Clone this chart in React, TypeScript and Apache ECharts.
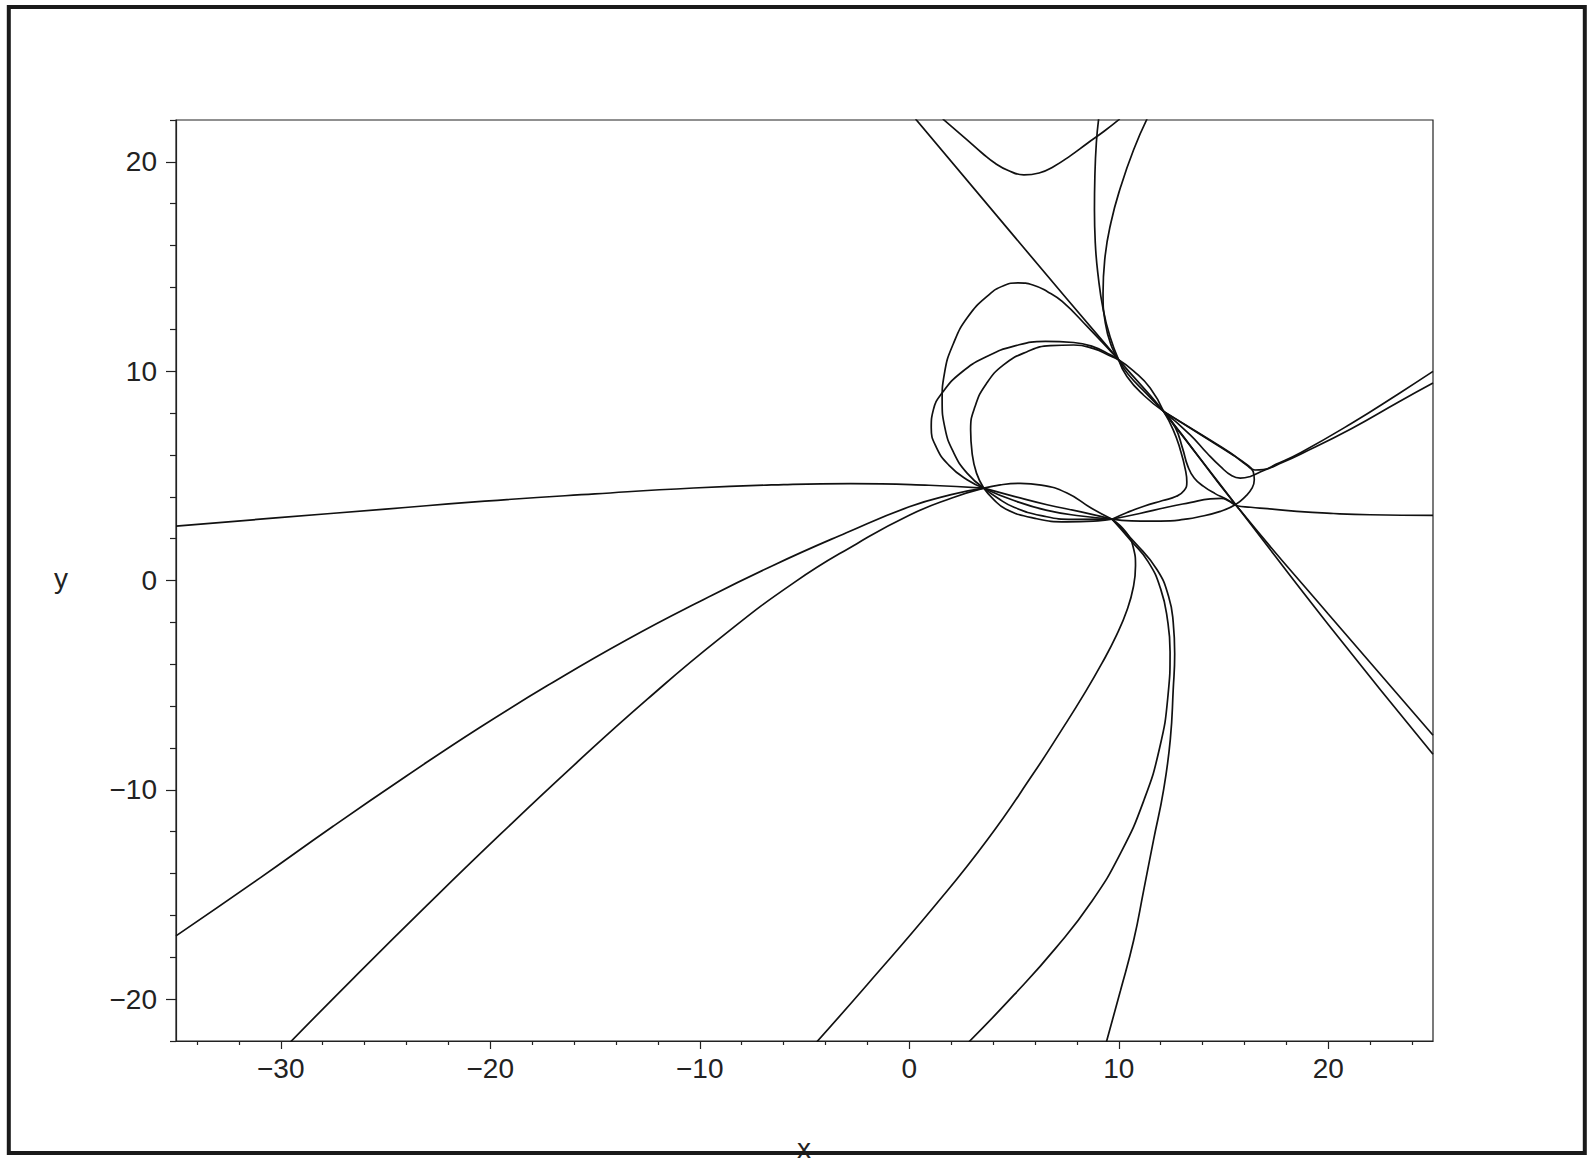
import React, { useEffect, useRef } from "react";
import * as echarts from "echarts";

// ---- axis ticks ----
const X_MAJOR = [-30, -20, -10, 0, 10, 20];
const X_MINOR = [-34, -32, -28, -26, -24, -22, -18, -16, -14, -12, -8, -6, -4, -2, 2, 4, 6, 8, 12, 14, 16, 18, 22, 24];
const Y_MAJOR = [-20, -10, 0, 10, 20];
const Y_MINOR = [-22, -18, -16, -14, -12, -8, -6, -4, -2, 2, 4, 6, 8, 12, 14, 16, 18, 22];

// ---- curve strands, [x, y] ----
const leftFlat = [[-35, 2.6], [-30.24, 2.99], [-25, 3.41], [-20.26, 3.79], [-15, 4.14], [-10.29, 4.42], [-6, 4.58], [-2.8, 4.63], [0.94, 4.55], [3.56, 4.41]];
const lowerLeftUpper = [[-35, -16.98], [-31, -14.22], [-27.5, -11.74], [-24, -9.34], [-20.5, -7.02], [-17, -4.86], [-13.5, -2.84], [-10, -1.0], [-6.5, 0.72], [-3, 2.28], [0, 3.52], [2, 4.1], [3.56, 4.41]];
const lowerLeftLower = [[-29.54, -22.05], [-26.5, -18.97], [-23, -15.5], [-19.5, -12.11], [-16, -8.82], [-12.5, -5.67], [-9, -2.73], [-5.5, -0.1], [-2.5, 1.76], [0, 3.12], [2, 3.93], [3.56, 4.41]];

const topU = [[1.6, 22.05], [2.76, 21.05], [3.5, 20.4], [4.1, 19.93], [4.7, 19.6], [5.47, 19.38], [6.2, 19.47], [6.9, 19.78], [7.7, 20.3], [8.49, 20.88], [9.3, 21.46], [10.05, 22.05]];
const diagLine = [[0.3, 22.05], [5, 16.45], [9.99, 10.55], [12.14, 8.08], [15.64, 3.55], [20, -1.6], [25, -7.39]];
const diagLine2 = [[12.14, 8.08], [13.9, 5.8], [15.64, 3.55], [20, -2.1], [25, -8.3]];
const vertA = [[9.04, 22.05], [8.93, 20.9], [8.86, 19.3], [8.84, 17.71], [8.88, 16.12], [9.02, 14.53], [9.26, 12.93], [9.58, 11.66], [9.99, 10.55]];
const vertB = [[11.35, 22.05], [10.71, 20.58], [10.1, 18.83], [9.62, 17.07], [9.33, 15.32], [9.25, 13.73], [9.36, 12.3], [9.66, 11.18], [9.99, 10.55]];

const hump = [[3.56, 4.41], [2.76, 5.13], [2.13, 6.09], [1.7, 7.3], [1.57, 8.6], [1.68, 9.9], [2.1, 11.3], [2.8, 12.6], [3.8, 13.65], [4.5, 14.08], [5.2, 14.22], [5.9, 14.12], [6.6, 13.8], [7.3, 13.33], [8.49, 12.14], [9.99, 10.55]];
const loopOuter = [[3.56, 4.41], [2.76, 4.81], [1.9, 5.5], [1.3, 6.35], [1.05, 7.3], [1.15, 8.15], [1.6, 9.0], [2.5, 9.95], [3.7, 10.7], [5.0, 11.2], [6.5, 11.42], [7.85, 11.37], [8.8, 11.16], [9.6, 10.78], [9.99, 10.55]];
const loopInner = [[3.56, 4.41], [3.21, 5.13], [3.0, 6.09], [2.93, 7.2], [3.14, 8.31], [3.68, 9.4], [4.5, 10.3], [5.6, 10.92], [6.74, 11.22], [7.85, 11.25], [8.8, 11.08], [9.6, 10.73], [9.99, 10.55]];

const lensUpA = [[9.99, 10.55], [10.7, 10.02], [11.5, 9.2], [12.14, 8.08]];
const lensUpB = [[9.99, 10.55], [10.39, 9.75], [11.19, 8.85], [12.14, 8.08]];
const lensUpC = [[9.99, 10.55], [10.45, 9.85], [11.3, 8.95], [12.14, 8.08]];

const lensTop = [[3.56, 4.41], [4.35, 4.57], [5.3, 4.64], [6.3, 4.56], [7.53, 4.18], [8.7, 3.45], [9.68, 2.93]];
const lensMid1 = [[3.56, 4.41], [5.0, 4.02], [6.58, 3.62], [8.2, 3.28], [9.68, 2.93]];
const lensMid2 = [[3.56, 4.41], [5.0, 3.82], [6.58, 3.35], [8.2, 3.08], [9.68, 2.93]];
const lensBot1 = [[3.56, 4.41], [4.0, 3.9], [4.6, 3.42], [5.94, 2.98], [7.53, 2.8], [9.0, 2.85], [9.68, 2.93]];
const lensBot2 = [[3.56, 4.41], [4.2, 3.95], [5.0, 3.5], [6.3, 3.1], [7.8, 2.92], [9.68, 2.93]];

const lobe = [[9.68, 2.93], [10.6, 2.85], [11.51, 2.84], [12.46, 2.85], [13.1, 2.92], [13.73, 3.02], [14.85, 3.3], [15.56, 3.62], [16.04, 4.01], [16.36, 4.41], [16.47, 4.81], [16.42, 5.2], [16.12, 5.53], [15.32, 6.08], [14.05, 6.88], [12.14, 8.08]];
const tailUpper = [[12.14, 8.08], [14.05, 6.9], [15.32, 6.1], [16.1, 5.52], [16.5, 5.28], [16.9, 5.3], [17.5, 5.55], [18.7, 6.12], [21.1, 7.5], [23.4, 8.95], [25, 9.99]];
const tailLower = [[12.14, 8.08], [13.41, 6.96], [14.21, 6.09], [14.85, 5.45], [15.4, 5.0], [15.8, 4.89], [16.28, 4.97], [16.75, 5.18], [17.5, 5.5], [18.7, 6.05], [21.1, 7.25], [23.4, 8.55], [25, 9.43]];
const toP5 = [[12.14, 8.08], [12.7, 7.3], [13.05, 6.3], [13.3, 5.45], [13.6, 4.9], [14.05, 4.5], [14.6, 4.15], [15.1, 3.9], [15.64, 3.57]];
const bend = [[12.14, 8.08], [12.6, 7.2], [12.94, 6.24], [13.18, 5.3], [13.25, 4.7], [13.12, 4.3], [12.75, 4.02], [12.1, 3.82], [11.2, 3.55], [10.4, 3.25], [9.68, 2.93]];
const rightFlat = [[9.68, 2.93], [11.0, 3.2], [12.3, 3.5], [13.4, 3.72], [14.37, 3.9], [14.9, 3.92], [15.25, 3.8], [15.64, 3.57], [16.3, 3.5], [17.1, 3.43], [18.5, 3.3], [20.25, 3.2], [22.0, 3.14], [25, 3.11]];

const downFar = [[9.68, 2.93], [10.35, 2.3], [10.7, 1.55], [10.8, 0.7], [10.7, -0.3], [10.4, -1.4], [9.9, -2.6], [9.2, -3.95], [8.3, -5.5], [7.3, -7.1], [5.94, -9.2], [3.72, -12.4], [1.17, -15.6], [-2.0, -19.3], [-4.42, -22.05]];
const downMid = [[9.68, 2.93], [10.55, 1.94], [11.4, 0.9], [12.0, -0.4], [12.33, -1.9], [12.45, -3.4], [12.35, -5.5], [11.95, -8.0], [11.2, -10.5], [10.1, -13.0], [8.7, -15.35], [7.0, -17.55], [5.0, -19.8], [2.84, -22.05]];
const downNear = [[9.68, 2.93], [10.79, 1.79], [11.83, 0.51], [12.38, -0.76], [12.6, -2.0], [12.67, -3.5], [12.6, -5.2], [12.46, -7.6], [12.14, -10], [11.66, -12.4], [11.19, -14.8], [10.71, -17.2], [10.08, -19.6], [9.41, -22.05]];

const CURVES = [
  leftFlat, lowerLeftUpper, lowerLeftLower, topU, diagLine, diagLine2, vertA, vertB,
  hump, loopOuter, loopInner, lensUpA, lensUpB, lensUpC, lensTop, lensMid1, lensMid2,
  lensBot1, lensBot2, lobe, tailUpper, tailLower, toP5, bend, rightFlat, downFar, downMid, downNear,
];

const FONT = "'Liberation Sans', Arial, Helvetica, sans-serif";
const INK = "#222";
const fmt = (v: number) => (v < 0 ? "\u2212" + Math.abs(v) : String(v));

export default function App() {
  const ref = useRef<HTMLDivElement>(null);
  useEffect(() => {
    const chart = echarts.init(ref.current!, null, { renderer: "svg" });
    chart.setOption({
      animation: false,
      backgroundColor: "#ffffff",
      grid: { left: 176, top: 120, right: 160, bottom: 122, show: true, borderColor: INK, borderWidth: 1.2, backgroundColor: "transparent" },
      xAxis: [
        {
          type: "value", min: -35, max: 25, position: "bottom",
          axisLine: { show: true, onZero: false, lineStyle: { color: INK, width: 1.2 } },
          axisTick: { show: true, customValues: X_MAJOR, length: 8, lineStyle: { color: INK, width: 1.2 } },
          axisLabel: { customValues: X_MAJOR, formatter: fmt, fontSize: 28, fontFamily: FONT, color: INK, margin: 13 },
          splitLine: { show: false },
        },
        {
          type: "value", min: -35, max: 25, position: "bottom",
          axisLine: { show: false, onZero: false },
          axisTick: { show: true, customValues: X_MINOR, length: 4, lineStyle: { color: INK, width: 1.2 } },
          axisLabel: { show: false },
          splitLine: { show: false },
        },
      ],
      yAxis: [
        {
          type: "value", min: -22, max: 22, position: "left",
          axisLine: { show: true, onZero: false, lineStyle: { color: INK, width: 1.2 } },
          axisTick: { show: true, customValues: Y_MAJOR, length: 10, lineStyle: { color: INK, width: 1.2 } },
          axisLabel: { customValues: Y_MAJOR, formatter: fmt, fontSize: 28, fontFamily: FONT, color: INK, margin: 19 },
          splitLine: { show: false },
        },
        {
          type: "value", min: -22, max: 22, position: "left",
          axisLine: { show: false, onZero: false },
          axisTick: { show: true, customValues: Y_MINOR, length: 6, lineStyle: { color: INK, width: 1.2 } },
          axisLabel: { show: false },
          splitLine: { show: false },
        },
      ],
      series: CURVES.map((d) => ({
        type: "line",
        data: d,
        xAxisIndex: 0,
        yAxisIndex: 0,
        showSymbol: false,
        symbol: "none",
        smooth: 0.5,
        silent: true,
        clip: true,
        lineStyle: { color: "#111", width: 1.7 },
      })),
      graphic: [
        { type: "text", x: 61, y: 578, style: { text: "y", fontSize: 28, fontFamily: FONT, fill: INK, align: "center", verticalAlign: "middle", textAlign: "center", textVerticalAlign: "middle" } },
        { type: "text", x: 804, y: 1148, style: { text: "x", fontSize: 28, fontFamily: FONT, fill: INK, align: "center", verticalAlign: "middle", textAlign: "center", textVerticalAlign: "middle" } },
        { type: "rect", z: 100, shape: { x: 8.8, y: 7, width: 1576, height: 1146 }, style: { fill: "none", stroke: "#1a1a1a", lineWidth: 4 } },
      ],
    });
    return () => chart.dispose();
  }, []);
  return <div ref={ref} style={{ position: "fixed", left: 0, top: 0, width: 1593, height: 1163, background: "#fff" }} />;
}
